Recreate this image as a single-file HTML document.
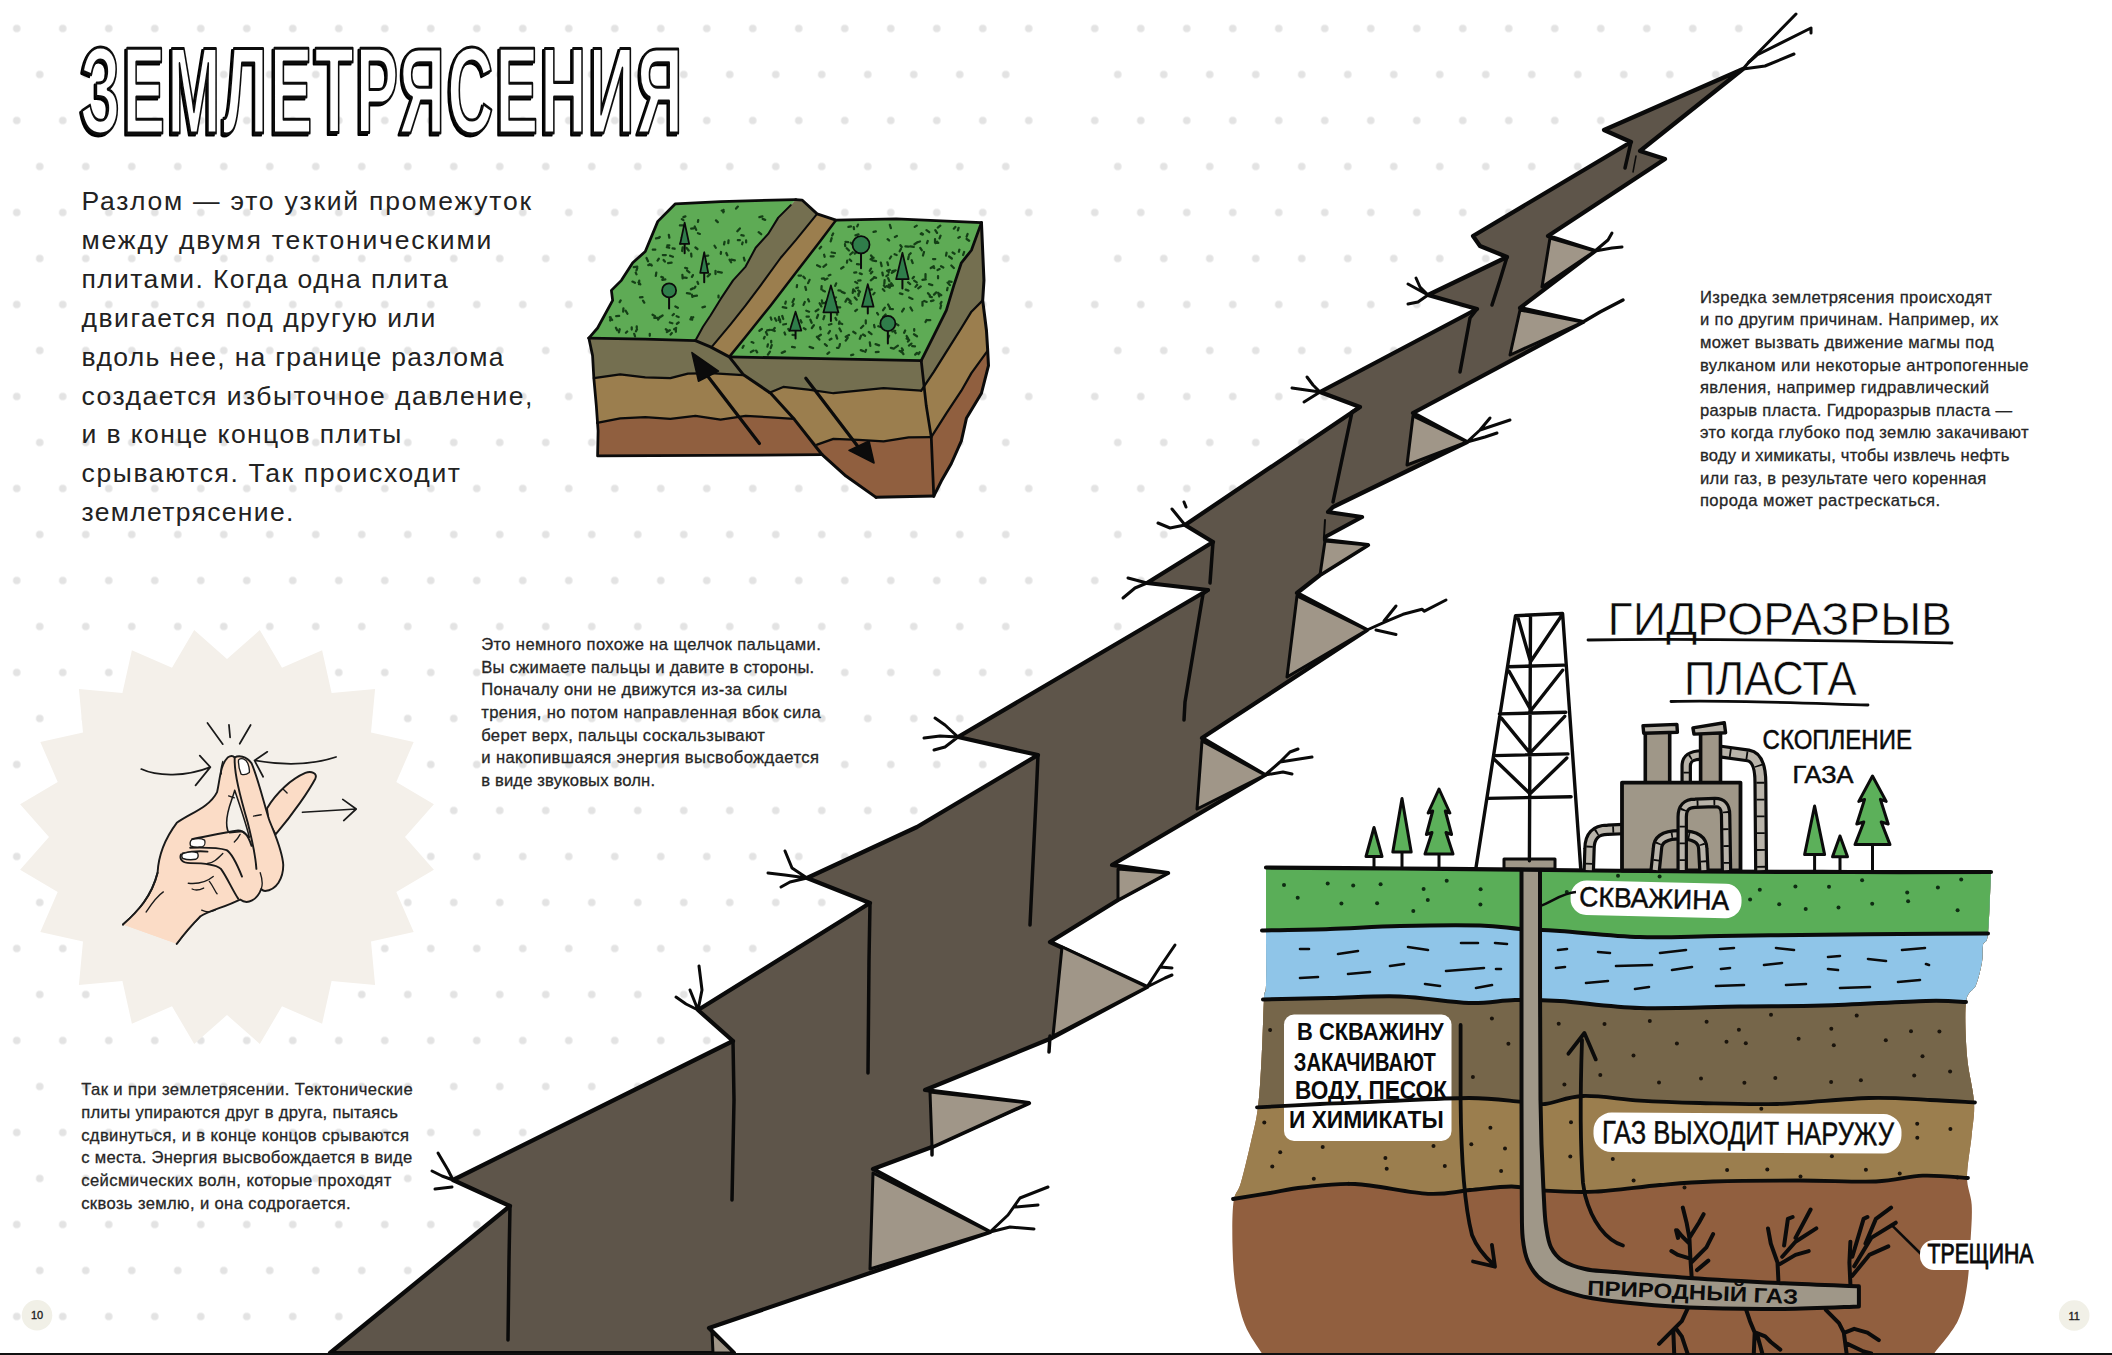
<!DOCTYPE html>
<html lang="ru"><head><meta charset="utf-8"><title>Землетрясения</title>
<style>
html,body{margin:0;padding:0;background:#fff;}
body{width:2112px;height:1355px;overflow:hidden;}
svg{display:block;}
text{font-family:"Liberation Sans",sans-serif;}
.t1{font-size:26.5px;fill:#222;}
.t2{font-size:16.6px;fill:#262626;stroke:#262626;stroke-width:.3px;}
.hw{font-family:"Liberation Sans",sans-serif;font-weight:bold;fill:#111;}
</style></head><body>
<svg width="2112" height="1355" viewBox="0 0 2112 1355">
<defs>
<pattern id="dotsL" x="-6.25" y="5.5" width="46" height="92" patternUnits="userSpaceOnUse">
<circle cx="23" cy="23" r="3.8" fill="#e3e3e3"/>
<circle cx="0" cy="69" r="3.8" fill="#e3e3e3"/>
<circle cx="46" cy="69" r="3.8" fill="#e3e3e3"/>
</pattern>
<pattern id="dotsR" x="13.75" y="5.5" width="46" height="92" patternUnits="userSpaceOnUse">
<circle cx="23" cy="23" r="3.8" fill="#e3e3e3"/>
<circle cx="0" cy="69" r="3.8" fill="#e3e3e3"/>
<circle cx="46" cy="69" r="3.8" fill="#e3e3e3"/>
</pattern>
</defs>
<rect x="0" y="0" width="2112" height="1355" fill="#ffffff"/>
<rect x="0" y="0" width="1040" height="1355" fill="url(#dotsL)"/>
<rect x="1085" y="0" width="1027" height="1355" fill="url(#dotsR)"/>
<!-- right page is plain white: cover dots to the right of the fault -->
<path d="M1743 69 L1640 151 L1665 159 L1548 236 L1595 251 L1520 308 L1583 322 L1413 413 L1467 442 L1333 507 L1328 512 L1362 517 L1325 537 L1325 540 L1368 545 L1320 575 L1297 593 L1367 630 L1202 738 L1265 775 L1112 865 L1168 873 L1118 900 L1050 942 L1147 987 L1052 1038 L925 1090 L1029 1103 L932 1147 L873 1169 L990 1232 L709 1328 L734 1355 L2112 1355 L2112 0 L1790 0 Z" fill="#ffffff"/>

<path d="M259.8 630.1 L282.0 667.7 L322.1 650.3 L331.6 693.0 L375.1 688.9 L371.0 732.4 L413.7 741.9 L396.3 782.0 L433.9 804.2 L405.0 837.0 L433.9 869.8 L396.3 892.0 L413.7 932.1 L371.0 941.6 L375.1 985.1 L331.6 981.0 L322.1 1023.7 L282.0 1006.3 L259.8 1043.9 L227.0 1015.0 L194.2 1043.9 L172.0 1006.3 L131.9 1023.7 L122.4 981.0 L78.9 985.1 L83.0 941.6 L40.3 932.1 L57.7 892.0 L20.1 869.8 L49.0 837.0 L20.1 804.2 L57.7 782.0 L40.3 741.9 L83.0 732.4 L78.9 688.9 L122.4 693.0 L131.9 650.3 L172.0 667.7 L194.2 630.1 L227.0 659.0 Z" fill="#f4f0ea"/>
<g transform="translate(100 700) scale(0.1919)" stroke-linecap="round" stroke-linejoin="round" fill="none" stroke="#1a1a1a" stroke-width="10">
<path d="M870 565 C920 480 1000 410 1070 380 C1100 368 1135 380 1122 410 C1090 470 1010 590 915 700 L880 640 Z" fill="#fbdcc6"/>
<path d="M120 1170 C200 1100 270 1020 300 900 C305 800 340 720 400 640 C470 590 570 560 610 480 C625 420 625 340 665 300 C680 290 695 292 702 300 C720 288 762 290 790 330 C820 400 850 520 880 620 C910 700 950 780 955 860 C955 930 920 990 860 995 C850 995 845 990 840 985 C820 1040 770 1070 730 1040 C650 1080 560 1100 520 1130 C470 1180 430 1230 400 1270" fill="#fbdcc6"/>
<path d="M120 1170 L400 1270 L520 1130 L300 1000 Z" fill="#fbdcc6" stroke="none"/>
<path d="M120 1170 C200 1100 270 1020 300 900 M400 1270 C430 1230 470 1180 520 1130"/>
<path d="M702 470 C690 520 660 570 660 640 C660 670 668 690 675 692 L740 685 L778 715 C760 640 725 540 702 470 Z" fill="#f4f0ea" stroke-width="8"/>
<path d="M702 300 C698 380 730 500 770 640 C790 720 810 800 815 880"/>
<path d="M480 725 C560 710 650 690 720 680 C750 680 770 700 790 760"/>
<path d="M470 770 C540 768 620 770 660 782 C690 800 720 870 740 920"/>
<path d="M422 805 C412 830 430 850 470 850 C540 850 600 855 630 880 C660 920 690 990 720 1035"/>
<path d="M430 800 C470 790 520 785 560 790"/>
<path d="M640 800 C610 830 590 850 560 852" stroke-width="7"/>
<path d="M478 728 C500 722 530 722 545 730 C550 745 545 760 535 764 C510 768 485 766 472 760 C468 748 470 735 478 728 Z" fill="#fff" stroke-width="7"/>
<path d="M432 800 C455 792 490 790 508 796 C514 810 510 824 500 830 C475 834 450 832 432 826 C424 816 426 806 432 800 Z" fill="#fff" stroke-width="7"/>
<path d="M722 312 C735 300 760 305 770 330 C778 350 780 365 778 378 C765 388 745 390 735 386 C725 360 720 335 722 312 Z" fill="#fff" stroke-width="7"/>
<path d="M640 320 C632 345 628 365 632 385" stroke-width="7"/>
<path d="M460 955 C510 960 560 945 590 920 M480 985 C500 995 520 990 540 980 M570 945 C590 970 600 1000 610 1010 M240 1105 C270 1060 300 1020 330 1000 M530 1095 C560 1110 580 1105 600 1095 M670 500 L700 510 M800 605 L840 598 M955 465 L975 485 M840 985 C850 960 845 930 835 900 M700 740 C710 730 720 720 730 700" stroke-width="7"/>
<path d="M215 360 C300 400 450 400 575 350 M520 290 L575 350 L498 445" stroke-width="9"/>
<path d="M1230 297 C1100 340 950 340 805 315 M872 270 L805 315 L850 400" stroke-width="9"/>
<path d="M1055 585 L1335 568 M1265 518 L1335 568 L1270 628" stroke-width="9"/>
<path d="M560 120 L640 230 M672 130 L678 195 M785 130 L728 228" stroke-width="9"/>
</g>
<filter id="tsh" x="-2%" y="-5%" width="104%" height="112%"><feOffset in="SourceAlpha" dx="-3.6" dy="2" result="o"/><feMerge><feMergeNode in="o"/><feMergeNode in="SourceGraphic"/></feMerge></filter>
<g transform="translate(80.5 132.5) scale(0.52 1)">
<text x="0" y="0" font-size="122" font-weight="bold" fill="#fff" stroke="#111" stroke-width="2.4" stroke-linejoin="round" textLength="1158" lengthAdjust="spacing" filter="url(#tsh)" style="vector-effect:non-scaling-stroke">ЗЕМЛЕТРЯСЕНИЯ</text>
</g>

<text class="t1" x="81.5" y="209.6" textLength="449.5" lengthAdjust="spacing">Разлом — это узкий промежуток</text>
<text class="t1" x="81.5" y="249" textLength="409.8" lengthAdjust="spacing">между двумя тектоническими</text>
<text class="t1" x="81.5" y="287.6" textLength="366.2" lengthAdjust="spacing">плитами. Когда одна плита</text>
<text class="t1" x="81.5" y="327" textLength="353.9" lengthAdjust="spacing">двигается под другую или</text>
<text class="t1" x="81.5" y="365.5" textLength="422.1" lengthAdjust="spacing">вдоль нее, на границе разлома</text>
<text class="t1" x="81.5" y="404.6" textLength="450.8" lengthAdjust="spacing">создается избыточное давление,</text>
<text class="t1" x="81.5" y="443.3" textLength="319.8" lengthAdjust="spacing">и в конце концов плиты</text>
<text class="t1" x="81.5" y="482" textLength="378.5" lengthAdjust="spacing">срываются. Так происходит</text>
<text class="t1" x="81.5" y="521" textLength="211.9" lengthAdjust="spacing">землетрясение.</text>
<text class="t2" x="481.2" y="649.9" textLength="339.6" lengthAdjust="spacing">Это немного похоже на щелчок пальцами.</text>
<text class="t2" x="481.2" y="672.7" textLength="333.0" lengthAdjust="spacing">Вы сжимаете пальцы и давите в стороны.</text>
<text class="t2" x="481.2" y="695.4" textLength="306.1" lengthAdjust="spacing">Поначалу они не движутся из-за силы</text>
<text class="t2" x="481.2" y="718.1" textLength="339.6" lengthAdjust="spacing">трения, но потом направленная вбок сила</text>
<text class="t2" x="481.2" y="740.6" textLength="283.7" lengthAdjust="spacing">берет верх, пальцы соскальзывают</text>
<text class="t2" x="481.2" y="763.2" textLength="337.7" lengthAdjust="spacing">и накопившаяся энергия высвобождается</text>
<text class="t2" x="481.2" y="785.8" textLength="173.8" lengthAdjust="spacing">в виде звуковых волн.</text>
<text class="t2" x="81.2" y="1095" textLength="331.5" lengthAdjust="spacing">Так и при землетрясении. Тектонические</text>
<text class="t2" x="81.2" y="1117.8" textLength="316.8" lengthAdjust="spacing">плиты упираются друг в друга, пытаясь</text>
<text class="t2" x="81.2" y="1140.5" textLength="327.7" lengthAdjust="spacing">сдвинуться, и в конце концов срываются</text>
<text class="t2" x="81.2" y="1163.2" textLength="331.1" lengthAdjust="spacing">с места. Энергия высвобождается в виде</text>
<text class="t2" x="81.2" y="1186" textLength="310.2" lengthAdjust="spacing">сейсмических волн, которые проходят</text>
<text class="t2" x="81.2" y="1208.5" textLength="269.5" lengthAdjust="spacing">сквозь землю, и она содрогается.</text>
<text class="t2" x="1699.9" y="302.8" textLength="291.9" lengthAdjust="spacing">Изредка землетрясения происходят</text>
<text class="t2" x="1699.9" y="325.4" textLength="298.3" lengthAdjust="spacing">и по другим причинам. Например, их</text>
<text class="t2" x="1699.9" y="347.9" textLength="293.7" lengthAdjust="spacing">может вызвать движение магмы под</text>
<text class="t2" x="1699.9" y="370.5" textLength="328.7" lengthAdjust="spacing">вулканом или некоторые антропогенные</text>
<text class="t2" x="1699.9" y="393.1" textLength="289.1" lengthAdjust="spacing">явления, например гидравлический</text>
<text class="t2" x="1699.9" y="415.7" textLength="312.1" lengthAdjust="spacing">разрыв пласта. Гидроразрыв пласта —</text>
<text class="t2" x="1699.9" y="438.3" textLength="328.7" lengthAdjust="spacing">это когда глубоко под землю закачивают</text>
<text class="t2" x="1699.9" y="460.9" textLength="309.4" lengthAdjust="spacing">воду и химикаты, чтобы извлечь нефть</text>
<text class="t2" x="1699.9" y="483.5" textLength="286.3" lengthAdjust="spacing">или газ, в результате чего коренная</text>
<text class="t2" x="1699.9" y="506.1" textLength="240.2" lengthAdjust="spacing">порода может растрескаться.</text>
<g transform="translate(570 180) scale(0.25088)" stroke-linejoin="round" stroke-linecap="round">
<path d="M75 630 L500 640 L560 665 L635 705 L690 775 L800 850 L895 955 L1005 1095 L110 1100 L112 1000 L105 900 L95 790 L90 700 L75 630 Z" fill="#905f3f" stroke="none"/>
<path d="M75 630 L500 640 L560 665 L635 705 L690 775 L800 850 L893 952 L800 946 L700 940 L600 955 L500 940 L400 952 L300 945 L200 950 L108 968 L105 900 L95 790 L90 700 Z" fill="#9b7e4e"/>
<path d="M75 630 L500 640 L560 665 L635 705 L690 778 L560 770 L470 772 L400 790 L300 787 L200 775 L95 790 L90 700 Z" fill="#746f50"/>
<path d="M635 705 L1400 720 L1420 900 L1440 1025 L1450 1260 L1220 1265 L1100 1180 L1005 1095 L895 955 L800 850 L690 775 Z" fill="#905f3f"/>
<path d="M635 705 L1400 720 L1420 900 L1440 1025 L1350 1026 L1250 1042 L1150 1036 L1050 1032 L985 1055 L895 955 L800 850 L690 775 Z" fill="#9b7e4e"/>
<path d="M635 705 L1400 720 L1400 840 L1250 830 L1150 840 L1050 850 L950 836 L850 825 L795 848 L690 775 Z" fill="#746f50"/>
<path d="M1640 170 L1650 400 L1645 480 L1660 600 L1665 680 L1668 740 L1640 850 L1580 950 L1560 1040 L1520 1130 L1480 1200 L1450 1260 L1440 1025 L1420 900 L1400 720 L1450 620 L1500 520 L1530 420 L1560 330 L1600 280 Z" fill="#905f3f"/>
<path d="M1640 170 L1650 400 L1645 480 L1660 600 L1665 680 L1600 770 L1560 840 L1500 930 L1440 1025 L1420 900 L1400 720 L1450 620 L1500 520 L1530 420 L1560 330 L1600 280 Z" fill="#9b7e4e"/>
<path d="M1640 170 L1650 400 L1645 480 L1600 525 L1560 590 L1500 685 L1450 765 L1400 840 L1400 720 L1450 620 L1500 520 L1530 420 L1560 330 L1600 280 Z" fill="#746f50"/>
<path d="M900 78 L925 80 L985 135 L900 240 L840 310 L760 420 L700 500 L640 575 L565 665 L500 640 L530 585 L560 540 L600 475 L650 400 L700 345 L740 270 L790 215 L830 150 L880 100 Z" fill="#746f50"/>
<path d="M985 135 L900 240 L840 310 L760 420 L700 500 L640 575 L565 665 L635 705 L700 625 L800 500 L900 370 L1000 240 L1060 160 Z" fill="#9b7e4e"/>
<path d="M75 630 L110 590 L170 480 L165 440 L205 400 L250 330 L300 285 L350 165 L420 95 L600 86 L900 78 L880 100 L830 150 L790 215 L740 270 L700 345 L650 400 L600 475 L560 540 L530 585 L500 640 L300 634 Z" fill="#5eab55"/>
<path d="M1060 160 L1300 155 L1640 170 L1600 280 L1560 330 L1530 420 L1500 520 L1450 620 L1400 720 L1000 712 L635 705 L700 625 L800 500 L900 370 L1000 240 Z" fill="#5eab55"/>
<path d="M612 119l-1 10 M425 543l8 3 M551 301l-7 1 M329 537l10 6 M602 287l-1 7 M636 318l6 10 M449 246l-10 8 M276 401l-1 14 M677 240l-8 0 M420 504l10 5 M553 334l-13 7 M466 451l12 2 M393 454l11 1 M398 568l10 3 M305 311l6 13 M268 351l-3 9 M380 396l-12 2 M500 425l-4 6 M399 302l11 4 M582 161l7 7 M459 350l8 2 M358 227l-7 4 M511 160l-1 7 M213 512l-1 13 M262 369l3 7 M289 467l-10 1 M222 521l7 12 M406 610l-5 6 M196 542l-12 1 M364 386l7 3 M433 568l-7 5 M273 408l7 8 M183 589l5 10 M422 594l-0 11 M438 181l13 0 M344 369l-2 13 M538 505l-10 3 M580 362l-0 13 M448 378l1 14 M768 155l10 4 M202 480l-4 7 M256 613l3 10 M500 269l8 6 M532 326l10 1 M590 366l15 3 M423 590l-8 5 M198 595l-3 12 M643 317l14 3 M449 269l-2 14 M510 212l8 3 M702 241l-0 8 M483 547l4 10 M358 546l-7 10 M409 273l8 1 M317 336l9 5 M330 278l10 0 M467 361l9 7 M558 375l-9 9 M396 261l-8 0 M491 547l-11 8 M162 548l-2 12 M592 461l0 7 M490 379l-4 7 M683 220l9 2 M677 193l-10 11 M483 293l1 12 M605 122l8 4 M688 249l-2 7 M632 241l-1 11 M460 145l-8 3 M446 229l12 9 M249 405l10 5 M266 583l0 7 M447 248l9 4 M336 550l13 0 M767 145l-12 3 M382 299l-12 0 M373 319l5 6 M159 547l9 11 M497 185l6 14 M669 106l-7 8 M465 271l8 10 M616 247l-2 10 M246 587l0 9 M446 156l6 4 M693 310l3 11 M386 268l9 2 M490 432l-8 4 M405 329l-14 2 M398 599l-12 7 M506 461l-13 2 M452 388l13 2 M267 595l-4 8 M508 406l3 8 M324 337l-12 2 M486 457l2 9 M354 314l-5 7 M492 193l-9 1 M752 208l10 8 M318 613l0 8 M228 604l-5 5 M623 291l4 9 M369 540l-9 6 M382 595l8 6 M414 534l-5 5 M355 231l-12 2 M291 481l5 8 M268 345l-14 2 M394 219l2 11 M576 262l5 8" stroke="#143f16" stroke-width="9" fill="none"/>
<path d="M1421 200l11 8 M1348 408l8 7 M1258 536l-10 10 M1303 223l-8 4 M1205 366l-6 6 M789 655l-2 9 M1145 286l-10 7 M1112 618l-13 7 M1505 409l9 10 M1585 215l-4 11 M891 494l-4 8 M1317 260l5 7 M1434 465l8 2 M1032 466l-3 7 M800 548l3 9 M949 475l4 9 M1001 266l-6 7 M1061 619l4 13 M1098 247l11 1 M1279 669l12 3 M1008 440l8 4 M1159 678l10 4 M1120 185l-10 2 M1464 246l-7 5 M1042 633l-7 4 M1155 372l8 3 M1364 662l11 1 M1477 222l-4 11 M1265 328l3 11 M1063 527l2 10 M1127 288l-10 9 M1096 256l1 8 M1148 178l-3 7 M1372 594l-0 7 M1141 368l-8 1 M1371 615l12 8 M1129 696l-8 2 M1395 245l-9 3 M1455 236l-0 14 M1144 335l8 1 M797 684l-8 12 M805 598l11 4 M1275 358l-11 4 M1218 654l14 5 M1268 378l-7 5 M997 587l2 8 M1382 182l-8 5 M1224 530l4 6 M1254 399l-1 14 M860 485l-2 8 M1262 423l13 6 M1039 304l12 0 M1200 353l-5 9 M885 665l11 2 M1043 289l13 2 M1581 235l10 7 M1144 517l-7 5 M1422 559l14 0 M1384 418l-7 8 M972 579l-8 11 M1350 305l-2 10 M1427 451l8 9 M1383 689l-7 7 M1520 341l10 10 M1269 546l-7 13 M1107 629l-8 11 M1074 564l-2 9 M848 507l14 3 M742 680l4 7 M1331 513l-7 11 M1000 617l-12 8 M1272 621l-4 9 M1396 271l6 9 M919 559l4 9 M1074 592l6 11 M1176 277l-7 3 M1459 251l9 0 M1129 605l9 6 M984 625l10 11 M1338 437l11 4 M1336 600l-4 9 M1038 378l-7 3 M1016 654l8 7 M1169 581l-9 9 M985 340l12 6 M1300 574l9 5 M1412 482l10 4 M1525 289l8 5 M1342 632l7 4 M1160 246l4 7 M1372 401l10 7 M1036 602l-6 9 M1271 417l11 5 M1042 574l-10 3 M1212 578l2 9 M1361 652l-10 8 M1280 411l7 10 M1421 558l-4 8 M1061 412l-4 10 M1314 681l10 7 M1417 375l0 15 M797 597l-11 2 M1179 560l-0 12 M1468 450l4 14 M846 542l4 12 M911 381l10 0 M1058 550l4 8 M861 574l-11 2 M855 608l3 8 M765 594l-10 7 M1107 473l11 10 M990 516l-11 7 M1105 321l-1 8 M1473 355l-8 4 M1013 298l2 8 M938 426l3 12 M1298 360l-13 3 M776 625l-3 7 M1294 296l8 3 M870 594l4 7 M804 658l-4 12 M1307 660l-11 8 M833 546l-1 13 M1076 654l-2 9 M1131 188l1 8 M1129 436l-2 14 M1105 473l-7 12 M1012 392l-8 1 M1275 514l12 1 M1321 681l8 13 M1148 429l-7 2 M1357 508l7 12 M1003 423l-1 13 M1060 468l-8 5 M1467 383l-0 9 M1293 602l5 8 M936 486l-5 12 M1296 601l-11 3 M1255 509l-7 10 M1319 275l-5 9 M1401 212l6 4 M1294 363l-11 7 M1200 301l6 8 M955 398l-6 13 M1449 480l-10 3 M1230 685l-11 1 M1049 213l-4 8 M724 646l7 3 M1358 292l-6 6 M1352 638l-5 6 M1267 556l2 14 M1456 200l7 11 M802 641l0 7 M1004 480l2 12 M781 606l5 11 M1268 391l5 12 M1205 320l15 3 M1342 622l6 10 M1239 329l3 14 M1014 542l-4 13 M1447 315l9 0 M1060 486l-12 8 M1210 310l-12 6 M1323 671l4 7 M1191 606l11 8 M1571 287l-4 12 M1103 272l9 9 M1431 415l13 4 M1411 287l-4 14 M1114 488l7 5 M817 551l5 10 M1040 447l7 3 M1426 243l-3 9 M1505 430l-2 9 M1418 396l-13 2 M1195 647l2 14 M1549 191l-3 10 M893 474l-6 13 M1308 377l1 8 M1476 182l-10 8 M1394 686l-5 8 M1229 583l9 3 M1119 250l6 6 M1356 265l14 2 M857 683l-13 6 M732 680l-11 6 M1090 347l-9 6 M1266 236l6 5 M1352 468l13 6 M1479 344l9 5 M955 665l14 5 M692 661l-4 8 M1115 317l6 6 M1536 187l-6 7 M1446 348l6 3 M1471 453l9 6 M1552 278l-2 8 M816 590l-5 7 M1247 435l6 7 M1250 555l-10 7 M1371 386l-5 6 M1450 344l-12 7 M1511 305l11 8 M1008 491l11 0 M1083 446l12 5 M958 557l5 12 M1151 455l-1 7 M887 617l8 1 M1337 265l12 1 M1214 450l-5 6 M1131 438l5 6 M1043 232l-4 13 M1385 248l-12 8 M1026 393l-10 5 M1033 687l-7 6 M1271 361l-1 8 M1070 440l8 1 M1280 305l-5 8 M1180 677l-3 8 M1158 400l-9 1 M942 521l11 4 M905 419l-1 8 M930 385l6 7 M1479 500l-3 12 M837 556l1 11 M1251 420l5 7 M1020 486l10 0 M1501 290l-2 11 M932 591l7 4 M1511 404l10 2 M1077 571l8 3 M989 537l-5 13 M1460 448l-9 9 M1398 424l-10 8 M1554 227l-6 3 M1405 486l0 15 M1210 391l-11 9 M1245 369l2 11 M1362 320l4 11 M1021 337l-11 9 M1137 406l8 5 M1219 205l-9 2 M1064 669l7 0 M1203 436l-13 3 M1155 447l-6 8 M995 491l7 13 M1315 452l10 3 M1038 472l-3 14 M1077 508l-10 0 M1168 616l8 5 M1150 217l-12 4 M1149 440l7 5 M1268 496l7 13 M1275 179l4 13 M943 545l9 0 M1481 486l-4 7 M1135 468l8 9 M1212 387l8 3 M1398 215l8 3 M1160 620l-5 13" stroke="#143f16" stroke-width="9" fill="none"/>
<path d="M75 630 L110 590 L170 480 L165 440 L205 400 L250 330 L300 285 L350 165 L420 95 L600 86 L900 78" fill="none" stroke="#0b0b0b" stroke-width="11"/>
<path d="M75 630 L90 700 L95 790 L105 900 L112 1000 L110 1100 L1005 1095" fill="none" stroke="#0b0b0b" stroke-width="11"/>
<path d="M75 630 L300 634 L500 640" fill="none" stroke="#0b0b0b" stroke-width="11"/>
<path d="M500 640 L560 665 L635 705 L690 775 L800 850 L895 955 L1005 1095 L1100 1180 L1220 1265" fill="none" stroke="#0b0b0b" stroke-width="12"/>
<path d="M880 100 L830 150 L790 215 L740 270 L700 345 L650 400 L600 475 L560 540 L530 585 L500 640" fill="none" stroke="#0b0b0b" stroke-width="8"/>
<path d="M900 78 L925 80 L985 135 L1060 160 L1300 155 L1640 170" fill="none" stroke="#0b0b0b" stroke-width="11"/>
<path d="M985 135 L900 240 L840 310 L760 420 L700 500 L640 575 L565 665" fill="none" stroke="#0b0b0b" stroke-width="8"/>
<path d="M1060 160 L1000 240 L900 370 L800 500 L700 625 L635 705" fill="none" stroke="#0b0b0b" stroke-width="10"/>
<path d="M95 790 L200 775 L300 787 L400 790 L470 772 L560 770 L690 778" fill="none" stroke="#0b0b0b" stroke-width="9"/>
<path d="M108 968 L200 950 L300 945 L400 952 L500 940 L600 955 L700 940 L800 946 L893 952" fill="none" stroke="#0b0b0b" stroke-width="9"/>
<path d="M795 848 L850 825 L950 836 L1050 850 L1150 840 L1250 830 L1400 840" fill="none" stroke="#0b0b0b" stroke-width="9"/>
<path d="M985 1055 L1050 1032 L1150 1036 L1250 1042 L1350 1026 L1440 1025" fill="none" stroke="#0b0b0b" stroke-width="9"/>
<path d="M1400 840 L1450 765 L1500 685 L1560 590 L1600 525 L1645 480" fill="none" stroke="#0b0b0b" stroke-width="9"/>
<path d="M1440 1025 L1500 930 L1560 840 L1600 770 L1665 680" fill="none" stroke="#0b0b0b" stroke-width="9"/>
<path d="M635 705 L1000 712 L1400 720" fill="none" stroke="#0b0b0b" stroke-width="11"/>
<path d="M1640 170 L1600 280 L1560 330 L1530 420 L1500 520 L1450 620 L1400 720" fill="none" stroke="#0b0b0b" stroke-width="11"/>
<path d="M1400 720 L1420 900 L1440 1025 L1450 1260" fill="none" stroke="#0b0b0b" stroke-width="11"/>
<path d="M1640 170 L1650 400 L1645 480 L1660 600 L1665 680 L1668 740 L1640 850 L1580 950 L1560 1040 L1520 1130 L1480 1200 L1450 1260" fill="none" stroke="#0b0b0b" stroke-width="12"/>
<path d="M1220 1265 L1450 1260" fill="none" stroke="#0b0b0b" stroke-width="12"/>
<path d="M755 1050 L540 770" stroke="#0b0b0b" stroke-width="13" fill="none"/>
<path d="M486 688 L592 762 L512 802 Z" fill="#0b0b0b" stroke="#0b0b0b" stroke-width="6"/>
<path d="M940 790 L1165 1085" stroke="#0b0b0b" stroke-width="13" fill="none"/>
<path d="M1212 1128 L1112 1078 L1192 1040 Z" fill="#0b0b0b" stroke="#0b0b0b" stroke-width="6"/>
<path d="M457 255 L457 292" stroke="#0b0b0b" stroke-width="8" fill="none"/>
<path d="M457 170 L439 255 L475 255 Z" fill="#2f7d4a" stroke="#0b0b0b" stroke-width="7"/>
<path d="M535 370 L535 408" stroke="#0b0b0b" stroke-width="8" fill="none"/>
<path d="M535 288 L519 370 L551 370 Z" fill="#2f7d4a" stroke="#0b0b0b" stroke-width="7"/>
<path d="M395 440 L395 512" stroke="#0b0b0b" stroke-width="8" fill="none"/>
<circle cx="395" cy="440" r="28" fill="#2f7d4a" stroke="#0b0b0b" stroke-width="7"/>
<path d="M1160 258 L1160 352" stroke="#0b0b0b" stroke-width="8" fill="none"/>
<circle cx="1160" cy="258" r="34" fill="#2f7d4a" stroke="#0b0b0b" stroke-width="7"/>
<path d="M1325 395 L1325 432" stroke="#0b0b0b" stroke-width="8" fill="none"/>
<path d="M1325 290 L1300 395 L1350 395 Z" fill="#2f7d4a" stroke="#0b0b0b" stroke-width="7"/>
<path d="M1040 528 L1040 562" stroke="#0b0b0b" stroke-width="8" fill="none"/>
<path d="M1040 420 L1010 528 L1070 528 Z" fill="#2f7d4a" stroke="#0b0b0b" stroke-width="7"/>
<path d="M1187 505 L1187 532" stroke="#0b0b0b" stroke-width="8" fill="none"/>
<path d="M1187 415 L1164 505 L1210 505 Z" fill="#2f7d4a" stroke="#0b0b0b" stroke-width="7"/>
<path d="M899 600 L899 632" stroke="#0b0b0b" stroke-width="8" fill="none"/>
<path d="M899 525 L876 600 L922 600 Z" fill="#2f7d4a" stroke="#0b0b0b" stroke-width="7"/>
<path d="M1267 572 L1267 652" stroke="#0b0b0b" stroke-width="8" fill="none"/>
<circle cx="1267" cy="572" r="30" fill="#2f7d4a" stroke="#0b0b0b" stroke-width="7"/>
</g>
<g id="fault" stroke-linejoin="round" stroke-linecap="round">
<path d="M1743 69 L1604 130 L1631 142 L1473 236 L1480 246 L1507 257 L1428 295 L1477 309 L1320 392 L1360 407 L1185 525 L1213 542 L1147 583 L1208 590 L958 737 L1038 755 L917 827 L807 878 L870 903 L698 1010 L733 1041 L453 1180 L510 1206 L330 1353 L734 1353 L709 1328 L990 1232 L873 1169 L932 1147 L1029 1103 L925 1090 L1052 1038 L1147 987 L1050 942 L1118 900 L1168 873 L1112 865 L1265 775 L1202 738 L1367 630 L1297 593 L1320 575 L1368 545 L1325 540 L1325 537 L1362 517 L1328 512 L1333 507 L1467 442 L1413 413 L1583 322 L1520 308 L1595 251 L1548 236 L1665 159 L1640 151 Z" fill="#5e554a" stroke="#0a0a0a" stroke-width="4.2"/>
<g fill="#a09688" stroke="#0a0a0a" stroke-width="3">
<path d="M1550 238 L1595 251 L1542 287 Z"/>
<path d="M1520 310 L1583 322 L1510 355 Z"/>
<path d="M1413 416 L1467 442 L1407 465 Z"/>
<path d="M1325 541 L1368 545 L1320 575 Z"/>
<path d="M1297 596 L1367 630 L1287 677 Z"/>
<path d="M1202 741 L1265 775 L1197 809 Z"/>
<path d="M1118 869 L1168 873 L1118 900 Z"/>
<path d="M1062 947 L1147 987 L1053 1036 Z"/>
<path d="M930 1092 L1029 1103 L932 1147 Z"/>
<path d="M873 1173 L990 1232 L870 1269 Z"/>
<path d="M712 1332 L734 1353 L713 1353 Z"/>
</g>
<g fill="none" stroke="#0a0a0a" stroke-width="3.5">
<path d="M1631 142 L1625 168"/>
<path d="M1636 156 L1633 172" stroke-width="1.5"/>
<path d="M1507 257 L1500 280 L1492 305"/>
<path d="M1477 309 L1470 318 L1460 372"/>
<path d="M1360 407 L1352 412 L1333 502"/>
<path d="M1213 542 L1210 583"/>
<path d="M1208 590 L1203 594 L1185 702 L1184 720"/>
<path d="M1038 755 L1036 800 L1030 925"/>
<path d="M870 903 L869 960 L868 1073"/>
<path d="M733 1041 L734 1100 L732 1200"/>
<path d="M510 1206 L509 1260 L508 1340"/>
<path d="M1325 520 L1324 537" stroke-width="2"/>
<path d="M932 1147 L932 1155"/>
<path d="M1050 1036 L1049 1052"/>
<path d="M1583 322 L1600 312 L1623 300" stroke-width="3.5"/>
<path d="M1367 630 L1388 620.6 L1403 614.3 L1422 609.3 L1424.4 611.2 L1446 600 M1384 621 L1396 606 M1376 630 L1396 634.5" stroke-width="3"/>
</g>
<!-- twigs -->
<g fill="none" stroke="#0a0a0a" stroke-width="3">
<path d="M1743 69 L1749 62 L1796 14"/>
<path d="M1749 62 L1757 55 L1811 28 L1811 33"/>
<path d="M1743 69 L1765 66 L1794 54"/>
<path d="M1428 295 L1408 284 M1428 295 L1420 287 L1416 278 M1428 295 L1418 302 L1408 304"/>
<path d="M1320 392 L1292 388 M1320 392 L1313 385 L1307 377 M1320 392 L1304 402"/>
<path d="M1185 525 L1172 509 M1185 525 L1170 528 L1158 523 M1186 507 L1184 502"/>
<path d="M1147 583 L1128 578 M1147 583 L1135 588 L1123 598"/>
<path d="M958 737 L945 725 L935 718 M958 737 L940 736 L924 738 M958 737 L945 747 L934 750"/>
<path d="M807 878 L792 868 L785 851 M807 878 L785 875 L768 873 M807 878 L790 882 L781 887"/>
<path d="M698 1010 L702 990 L699 966 M698 1010 L690 990 M698 1010 L686 1004 L676 997"/>
<path d="M453 1180 L448 1170 L438 1153 M453 1180 L442 1176 L432 1171 M435 1189 L452 1187"/>
<path d="M1595 251 L1608 240 L1612 233 M1595 251 L1612 248 L1622 247"/>
<path d="M1467 442 L1480 430 L1490 418 M1480 430 L1510 420 M1467 442 L1485 437 L1497 433"/>
<path d="M1265 775 L1280 762 L1290 752 L1298 749 M1280 762 L1312 757 M1265 775 L1283 772 L1292 774"/>
<path d="M1147 987 L1160 967 L1175 945 M1160 967 L1172 968 M1147 987 L1165 978 L1172 975"/>
<path d="M990 1232 L1008 1215 L1020 1198 L1048 1187 M1015 1207 L1038 1205 M990 1232 L1010 1227 L1034 1229"/>
</g>
</g>
<rect x="0" y="1353" width="2112" height="2" fill="#111"/>

<g id="frack" stroke-linecap="round" stroke-linejoin="round">
<clipPath id="fsil"><path d="M1266 867.5 C1266.0 877.9 1266.0 910.4 1266 930 C1266.0 949.6 1266.3 973.5 1266 985 C1265.7 996.5 1264.7 987.2 1264 999 C1263.3 1010.8 1262.7 1038.0 1261.7 1056 C1260.7 1074.0 1259.8 1092.7 1258 1107 C1256.2 1121.3 1253.9 1129.0 1251 1141.7 C1248.1 1154.4 1243.7 1173.0 1240.8 1183 C1237.9 1193.0 1234.9 1191.5 1233.5 1202 C1232.1 1212.5 1232.2 1231.5 1232.5 1245.8 C1232.8 1260.0 1233.5 1274.3 1235.6 1287.5 C1237.7 1300.7 1240.7 1314.1 1245 1325 C1249.3 1335.9 1258.9 1348.3 1261.7 1353 L1934.5 1353 C1938.4 1347.7 1952.4 1332.2 1957.8 1321 C1963.2 1309.8 1964.9 1299.5 1967 1286 C1969.1 1272.5 1969.8 1253.3 1970.6 1239.8 C1971.4 1226.3 1972.3 1215.3 1971.7 1204.8 C1971.1 1194.3 1967.0 1188.6 1967 1177 C1967.0 1165.4 1970.5 1147.5 1971.7 1135 C1972.9 1122.5 1974.8 1114.9 1974 1101.7 C1973.2 1088.5 1968.3 1072.6 1967 1056 C1965.7 1039.4 1964.5 1013.8 1966 1002 C1967.5 990.2 1973.3 991.7 1976 985 C1978.7 978.3 1980.8 968.7 1982 962 C1983.2 955.3 1982.0 949.8 1983 945 C1984.0 940.2 1986.7 945.8 1988 933.5 C1989.3 921.2 1990.5 881.8 1991 871.5 Z"/></clipPath>
<g clip-path="url(#fsil)">
<rect x="1200" y="860" width="820" height="500" fill="#915f3f"/>
<path d="M1233 1199 C1239.2 1198.0 1258.3 1194.9 1270 1193 C1281.7 1191.1 1288.8 1189.0 1303 1187.5 C1317.2 1186.0 1334.2 1183.0 1355 1184 C1375.8 1185.0 1408.8 1192.8 1428 1193.8 C1447.2 1194.8 1456.0 1191.2 1470 1190 C1484.0 1188.8 1499.2 1186.4 1511.7 1186.5 C1524.2 1186.6 1531.1 1189.7 1545 1190.6 C1558.9 1191.5 1575.8 1192.6 1595 1191.7 C1614.2 1190.8 1640.3 1186.7 1660 1185 C1679.7 1183.3 1689.7 1182.2 1713 1181.5 C1736.3 1180.8 1772.8 1180.5 1800 1180.5 C1827.2 1180.5 1855.5 1182.3 1876 1181.5 C1896.5 1180.7 1907.5 1176.3 1922.8 1175.7 C1938.1 1175.1 1960.5 1177.6 1968 1178 L2030 1178 L2030 850 L1200 850 L1200 1199 Z" fill="#9b7e4e"/>
<path d="M1257 1107.4 C1267.5 1106.8 1300.0 1105.0 1320 1104 C1340.0 1103.0 1352.2 1102.7 1377 1101.7 C1401.8 1100.7 1445.0 1098.0 1469 1098 C1493.0 1098.0 1508.3 1100.7 1521 1101.7 C1533.7 1102.7 1534.7 1105.0 1545 1104 C1555.3 1103.0 1567.2 1096.6 1583 1096 C1598.8 1095.4 1620.5 1099.4 1640 1100.6 C1659.5 1101.8 1677.2 1102.4 1700 1103 C1722.8 1103.6 1748.8 1104.8 1777 1104 C1805.2 1103.2 1843.5 1098.7 1869 1098 C1894.5 1097.3 1912.3 1099.2 1930 1100 C1947.7 1100.8 1967.5 1102.1 1975 1102.5 L2030 1102.5 L2030 850 L1200 850 L1200 1107.4 Z" fill="#76664a"/>
<path d="M1263 999.5 C1274.2 999.2 1307.2 998.5 1330 998 C1352.8 997.5 1376.8 995.7 1400 996.5 C1423.2 997.3 1449.8 1002.4 1469 1003 C1488.2 1003.6 1499.8 1000.3 1515 1000 C1530.2 999.7 1539.2 999.7 1560 1001 C1580.8 1002.3 1610.0 1007.1 1640 1008 C1670.0 1008.9 1709.5 1006.9 1740 1006.5 C1770.5 1006.1 1792.0 1006.5 1823 1005.6 C1854.0 1004.7 1902.2 1001.6 1926 1001 C1949.8 1000.4 1959.3 1001.8 1966 1002 L2030 1002 L2030 850 L1200 850 L1200 999.5 Z" fill="#8fc5e8"/>
<path d="M1262 930.5 C1273.3 930.2 1307.0 929.8 1330 929 C1353.0 928.2 1375.0 926.6 1400 926 C1425.0 925.4 1460.0 925.0 1480 925.5 C1500.0 926.0 1506.7 928.1 1520 929 C1533.3 929.9 1540.0 929.7 1560 931 C1580.0 932.3 1613.3 936.2 1640 937 C1666.7 937.8 1689.5 936.4 1720 936 C1750.5 935.6 1793.0 935.0 1823 934.7 C1853.0 934.4 1872.5 934.2 1900 934 C1927.5 933.8 1973.3 933.6 1988 933.5 L2030 933.5 L2030 850 L1200 850 L1200 930.5 Z" fill="#5aae58"/>
</g>
<g fill="#0e2c12"><circle cx="1284.0" cy="885.0" r="2.0"/><circle cx="1327.7" cy="883.4" r="2.0"/><circle cx="1353.2" cy="885.5" r="2.0"/><circle cx="1380.6" cy="884.2" r="2.0"/><circle cx="1423.6" cy="889.0" r="2.0"/><circle cx="1446.7" cy="880.7" r="2.0"/><circle cx="1480.6" cy="889.3" r="2.0"/><circle cx="1566.8" cy="891.9" r="2.0"/><circle cx="1618.0" cy="875.8" r="2.0"/><circle cx="1659.6" cy="876.5" r="2.0"/><circle cx="1759.8" cy="889.8" r="2.0"/><circle cx="1795.4" cy="886.4" r="2.0"/><circle cx="1829.0" cy="886.8" r="2.0"/><circle cx="1862.1" cy="880.2" r="2.0"/><circle cx="1907.2" cy="892.4" r="2.0"/><circle cx="1937.9" cy="887.5" r="2.0"/><circle cx="1961.2" cy="879.4" r="2.0"/><circle cx="1297.7" cy="897.8" r="2.0"/><circle cx="1341.4" cy="903.4" r="2.0"/><circle cx="1377.1" cy="903.2" r="2.0"/><circle cx="1413.3" cy="911.0" r="2.0"/><circle cx="1427.8" cy="900.1" r="2.0"/><circle cx="1480.4" cy="904.6" r="2.0"/><circle cx="1750.1" cy="899.6" r="2.0"/><circle cx="1779.2" cy="904.2" r="2.0"/><circle cx="1805.7" cy="909.0" r="2.0"/><circle cx="1838.5" cy="907.5" r="2.0"/><circle cx="1872.2" cy="903.7" r="2.0"/><circle cx="1908.1" cy="901.2" r="2.0"/><circle cx="1957.6" cy="910.2" r="2.0"/></g>
<g fill="#1a140c"><circle cx="1270.1" cy="1030.1" r="2.0"/><circle cx="1491.9" cy="1018.4" r="2.0"/><circle cx="1558.7" cy="1023.7" r="2.0"/><circle cx="1604.5" cy="1024.1" r="2.0"/><circle cx="1649.8" cy="1021.0" r="2.0"/><circle cx="1706.6" cy="1021.7" r="2.0"/><circle cx="1738.9" cy="1029.7" r="2.0"/><circle cx="1771.0" cy="1014.7" r="2.0"/><circle cx="1831.3" cy="1028.7" r="2.0"/><circle cx="1856.7" cy="1015.5" r="2.0"/><circle cx="1911.0" cy="1031.2" r="2.0"/><circle cx="1939.4" cy="1031.5" r="2.0"/><circle cx="1508.4" cy="1043.7" r="2.0"/><circle cx="1633.5" cy="1055.4" r="2.0"/><circle cx="1676.9" cy="1043.4" r="2.0"/><circle cx="1726.5" cy="1041.8" r="2.0"/><circle cx="1745.8" cy="1043.2" r="2.0"/><circle cx="1798.6" cy="1038.8" r="2.0"/><circle cx="1833.8" cy="1045.3" r="2.0"/><circle cx="1885.8" cy="1040.3" r="2.0"/><circle cx="1922.5" cy="1056.2" r="2.0"/><circle cx="1472.9" cy="1076.9" r="2.0"/><circle cx="1564.4" cy="1084.6" r="2.0"/><circle cx="1600.3" cy="1075.0" r="2.0"/><circle cx="1659.0" cy="1082.5" r="2.0"/><circle cx="1701.0" cy="1078.4" r="2.0"/><circle cx="1744.4" cy="1082.8" r="2.0"/><circle cx="1775.3" cy="1078.0" r="2.0"/><circle cx="1831.1" cy="1081.9" r="2.0"/><circle cx="1860.9" cy="1080.2" r="2.0"/><circle cx="1914.2" cy="1075.6" r="2.0"/><circle cx="1950.1" cy="1071.6" r="2.0"/></g>
<g fill="#1a140c"><circle cx="1264.3" cy="1122.5" r="2.0"/><circle cx="1490.4" cy="1127.8" r="2.0"/><circle cx="1571.0" cy="1122.3" r="2.0"/><circle cx="1761.3" cy="1108.8" r="2.0"/><circle cx="1917.2" cy="1123.7" r="2.0"/><circle cx="1950.4" cy="1129.0" r="2.0"/><circle cx="1280.2" cy="1152.3" r="2.0"/><circle cx="1322.7" cy="1146.9" r="2.0"/><circle cx="1385.4" cy="1158.0" r="2.0"/><circle cx="1433.5" cy="1145.9" r="2.0"/><circle cx="1471.3" cy="1144.3" r="2.0"/><circle cx="1505.0" cy="1148.4" r="2.0"/><circle cx="1570.3" cy="1156.5" r="2.0"/><circle cx="1612.8" cy="1158.9" r="2.0"/><circle cx="1831.9" cy="1156.3" r="2.0"/><circle cx="1917.3" cy="1137.7" r="2.0"/><circle cx="1272.3" cy="1166.5" r="2.0"/><circle cx="1313.8" cy="1178.7" r="2.0"/><circle cx="1348.7" cy="1183.7" r="2.0"/><circle cx="1386.7" cy="1168.7" r="2.0"/><circle cx="1444.8" cy="1166.1" r="2.0"/><circle cx="1501.1" cy="1171.0" r="2.0"/><circle cx="1633.6" cy="1180.6" r="2.0"/><circle cx="1684.5" cy="1187.6" r="2.0"/><circle cx="1727.1" cy="1170.1" r="2.0"/><circle cx="1767.3" cy="1169.6" r="2.0"/><circle cx="1800.5" cy="1176.4" r="2.0"/><circle cx="1865.9" cy="1169.7" r="2.0"/><circle cx="1899.7" cy="1173.5" r="2.0"/><circle cx="1957.4" cy="1177.5" r="2.0"/></g>
<path d="M1300 949l9 0 M1338 954l20 -3 M1408 947l20 3 M1461 943l17 0 M1495 943l12 1 M1390 966l14 -2 M1348 974l22 -2 M1300 978l18 -1 M1446 971l38 -3 M1496 969l5 0 M1425 984l15 2 M1476 988l16 -3 M1558 950l9 -1 M1598 952l12 1 M1660 953l26 -3 M1720 949l14 -1 M1776 948l18 2 M1828 957l12 -1 M1868 959l18 2 M1902 950l23 -2 M1556 968l9 -1 M1616 966l36 -1 M1672 970l20 -3 M1721 969l9 -1 M1764 965l18 -2 M1828 969l10 1 M1586 983l22 -2 M1635 989l14 -2 M1716 986l28 -1 M1786 985l20 -1 M1840 988l30 -1 M1898 982l22 -2 M1926 964l3 1" stroke="#0b0b0b" stroke-width="2.6" fill="none"/>
<rect x="1284" y="1014.6" width="167.5" height="126.39999999999998" rx="10" ry="10" fill="#fff" transform="rotate(0 1284 1014.6)"/>
<rect x="1593.6" y="1112.5" width="308.0" height="39.5" rx="18" ry="18" fill="#fff" transform="rotate(0.3 1593.6 1112.5)"/>
<rect x="1571" y="880" width="171" height="34.5" rx="16" ry="16" fill="#fff" transform="rotate(1.4 1571 880)"/>
<path d="M1262 930.5 C1273.3 930.2 1307.0 929.8 1330 929 C1353.0 928.2 1375.0 926.6 1400 926 C1425.0 925.4 1460.0 925.0 1480 925.5 C1500.0 926.0 1506.7 928.1 1520 929 C1533.3 929.9 1540.0 929.7 1560 931 C1580.0 932.3 1613.3 936.2 1640 937 C1666.7 937.8 1689.5 936.4 1720 936 C1750.5 935.6 1793.0 935.0 1823 934.7 C1853.0 934.4 1872.5 934.2 1900 934 C1927.5 933.8 1973.3 933.6 1988 933.5" fill="none" stroke="#0b0b0b" stroke-width="4"/>
<path d="M1263 999.5 C1274.2 999.2 1307.2 998.5 1330 998 C1352.8 997.5 1376.8 995.7 1400 996.5 C1423.2 997.3 1449.8 1002.4 1469 1003 C1488.2 1003.6 1499.8 1000.3 1515 1000 C1530.2 999.7 1539.2 999.7 1560 1001 C1580.8 1002.3 1610.0 1007.1 1640 1008 C1670.0 1008.9 1709.5 1006.9 1740 1006.5 C1770.5 1006.1 1792.0 1006.5 1823 1005.6 C1854.0 1004.7 1902.2 1001.6 1926 1001 C1949.8 1000.4 1959.3 1001.8 1966 1002" fill="none" stroke="#0b0b0b" stroke-width="4"/>
<path d="M1257 1107.4 C1267.5 1106.8 1300.0 1105.0 1320 1104 C1340.0 1103.0 1352.2 1102.7 1377 1101.7 C1401.8 1100.7 1445.0 1098.0 1469 1098 C1493.0 1098.0 1508.3 1100.7 1521 1101.7 C1533.7 1102.7 1534.7 1105.0 1545 1104 C1555.3 1103.0 1567.2 1096.6 1583 1096 C1598.8 1095.4 1620.5 1099.4 1640 1100.6 C1659.5 1101.8 1677.2 1102.4 1700 1103 C1722.8 1103.6 1748.8 1104.8 1777 1104 C1805.2 1103.2 1843.5 1098.7 1869 1098 C1894.5 1097.3 1912.3 1099.2 1930 1100 C1947.7 1100.8 1967.5 1102.1 1975 1102.5" fill="none" stroke="#0b0b0b" stroke-width="3.8"/>
<path d="M1233 1199 C1239.2 1198.0 1258.3 1194.9 1270 1193 C1281.7 1191.1 1288.8 1189.0 1303 1187.5 C1317.2 1186.0 1334.2 1183.0 1355 1184 C1375.8 1185.0 1408.8 1192.8 1428 1193.8 C1447.2 1194.8 1456.0 1191.2 1470 1190 C1484.0 1188.8 1499.2 1186.4 1511.7 1186.5 C1524.2 1186.6 1531.1 1189.7 1545 1190.6 C1558.9 1191.5 1575.8 1192.6 1595 1191.7 C1614.2 1190.8 1640.3 1186.7 1660 1185 C1679.7 1183.3 1689.7 1182.2 1713 1181.5 C1736.3 1180.8 1772.8 1180.5 1800 1180.5 C1827.2 1180.5 1855.5 1182.3 1876 1181.5 C1896.5 1180.7 1907.5 1176.3 1922.8 1175.7 C1938.1 1175.1 1960.5 1177.6 1968 1178" fill="none" stroke="#0b0b0b" stroke-width="3.8"/>
<path d="M1460.6 1025 L1460.6 1100 C1461 1150 1463 1200 1472 1235 C1477 1248 1484 1256 1494 1265 M1473 1261.5 L1495 1266.7 L1491.9 1244.8" fill="none" stroke="#0b0b0b" stroke-width="3.8"/>
<path d="M1623 1245.5 C1606 1240 1592 1222 1585 1195 L1583 1183 C1580.5 1150 1580 1100 1582 1040 M1568.4 1053.7 L1584.4 1033 L1595.8 1059.4" fill="none" stroke="#0b0b0b" stroke-width="3.8"/>
<path d="M1691.7 1277.7 L1690.3 1256.8 L1689.4 1237.9 L1686.6 1222.7 L1682.8 1207.6 M1690.3 1258.7 L1678.0 1254.9 L1671.4 1251.1 M1678.0 1237.9 L1676.1 1230.3 M1689.4 1243.6 L1681.8 1236.0 L1677.1 1230.3 M1691.3 1262.5 L1706.4 1247.3 L1713.1 1234.1 M1689.4 1237.9 L1698.9 1222.7 L1703.6 1214.2 M1697.0 1270.1 L1708.3 1260.6 M1778.4 1280.5 L1777.5 1262.5 L1770.8 1243.6 L1768.0 1228.4 M1779.4 1264.4 L1795.5 1254.9 L1808.7 1251.1 M1782.2 1256.8 L1795.5 1241.7 L1816.3 1228.4 M1784.1 1245.5 L1787.9 1218.9 L1792.6 1217.0 M1795.5 1237.9 L1810.6 1209.5 M1850.4 1284.3 L1849.4 1262.5 L1850.4 1241.7 M1852.3 1275.8 L1869.3 1254.9 L1888.3 1246.4 M1854.2 1266.3 L1871.2 1237.9 L1895.8 1222.7 M1852.3 1256.8 L1863.6 1218.9 L1867.4 1217.0 M1865.5 1243.6 L1875.9 1218.9 L1891.1 1207.6 M1687.5 1308.9 L1681.8 1321.2 L1672.3 1330.7 L1659.1 1343.9 M1673.3 1330.7 L1674.2 1353.4 M1676.1 1328.8 L1681.8 1336.4 L1687.5 1353.4 M1746.2 1309.8 L1750.0 1321.2 L1754.7 1332.6 L1753.8 1353.4 M1755.7 1332.6 L1765.2 1336.4 L1770.8 1342.0 L1780.3 1349.6 M1757.6 1336.4 L1762.3 1353.4 M1825.8 1309.8 L1839.0 1323.1 L1843.8 1332.6 L1846.6 1353.4 M1844.7 1332.6 L1854.2 1328.8 L1867.4 1332.6 L1878.8 1340.2 M1847.5 1343.9 L1863.6 1351.5 L1871.2 1353.4" fill="none" stroke="#0b0b0b" stroke-width="4"/>
<path d="M1521.5 866 C1521.5 905.0 1521.5 1044.3 1521.5 1100 C1521.5 1155.7 1521.6 1177.0 1521.8 1200 C1522.0 1223.0 1521.6 1227.5 1522.7 1237.9 C1523.8 1248.3 1524.9 1255.2 1528.4 1262.5 C1531.9 1269.8 1535.7 1276.0 1543.6 1281.4 C1551.5 1286.8 1564.1 1291.4 1575.8 1294.7 C1587.5 1298.0 1594.7 1299.2 1613.6 1301.3 C1632.5 1303.4 1661.0 1306.3 1689.4 1307.6 C1717.8 1308.9 1755.8 1309.1 1784 1308.9 C1812.2 1308.7 1846.4 1306.8 1858.9 1306.4 L1858.9 1286.2 C1846.4 1285.7 1812.2 1284.7 1784 1283.3 C1755.8 1281.9 1717.8 1279.9 1689.4 1278 C1661.0 1276.1 1631.0 1273.5 1613.6 1272 C1596.2 1270.5 1593.5 1270.9 1585 1269 C1576.5 1267.1 1568.2 1264.2 1562.5 1260.6 C1556.8 1257.0 1553.7 1252.7 1551 1247.3 C1548.3 1241.9 1547.6 1236.3 1546.4 1228.4 C1545.2 1220.5 1545.0 1221.4 1544 1200 C1543.0 1178.6 1541.2 1155.7 1540.5 1100 C1539.8 1044.3 1540.1 905.0 1540 866 Z" fill="#9f9788" stroke="#0b0b0b" stroke-width="4"/>
<rect x="1504" y="859" width="51" height="10" fill="#9f9788" stroke="#0b0b0b" stroke-width="3"/>
<path d="M1266 867.5 C1288.3 867.7 1357.7 868.1 1400 868.5 C1442.3 868.9 1470.0 869.2 1520 869.7 C1570.0 870.2 1645.0 871.1 1700 871.5 C1755.0 871.9 1801.5 871.9 1850 872 C1898.5 872.1 1967.5 872.0 1991 872" fill="none" stroke="#0b0b0b" stroke-width="4.2"/>
</g>
<g id="surface" stroke-linecap="round" stroke-linejoin="round">
<path d="M1374 856.5 L1374 868" stroke="#0b0b0b" stroke-width="3" fill="none"/>
<path d="M1374 827.5 L1366 856.5 L1382 856.5 Z" fill="#5cb05a" stroke="#0b0b0b" stroke-width="3"/>
<path d="M1402 852 L1402 868" stroke="#0b0b0b" stroke-width="3" fill="none"/>
<path d="M1402 798.6 L1392.8 852 L1411.2 852 Z" fill="#5cb05a" stroke="#0b0b0b" stroke-width="3"/>
<path d="M1439 854 L1439 868" stroke="#0b0b0b" stroke-width="3" fill="none"/>
<path d="M1439 789 L1449.9 813.0 L1445.3 811.0 L1451.6 834.5 L1446.0 832.5 L1453.0 854.0 L1425.0 854.0 L1432.0 832.5 L1426.4 834.5 L1432.7 811.0 L1428.1 813.0 Z" fill="#5cb05a" stroke="#0b0b0b" stroke-width="3"/>
<path d="M1814.6 854.6 L1814.6 870" stroke="#0b0b0b" stroke-width="3" fill="none"/>
<path d="M1814.6 806 L1804.6 854.6 L1824.6 854.6 Z" fill="#5cb05a" stroke="#0b0b0b" stroke-width="3"/>
<path d="M1840 856.8 L1840 870" stroke="#0b0b0b" stroke-width="3" fill="none"/>
<path d="M1840 836 L1832.5 856.8 L1847.5 856.8 Z" fill="#5cb05a" stroke="#0b0b0b" stroke-width="3"/>
<path d="M1872.5 844.6 L1872.5 870" stroke="#0b0b0b" stroke-width="3" fill="none"/>
<path d="M1872.5 776 L1886.2 801.4 L1880.4 799.4 L1888.2 824.0 L1881.2 822.0 L1890.0 844.6 L1855.0 844.6 L1863.8 822.0 L1856.8 824.0 L1864.6 799.4 L1858.8 801.4 Z" fill="#5cb05a" stroke="#0b0b0b" stroke-width="3"/>
<path d="M1475.9 868.2 L1515.5 615.7 L1562.6 613.5 L1580.7 868.2 M1530.5 616.7 L1529.4 860.7 M1508.0 666.8 L1563.6 665.1 M1499.4 713.9 L1565.8 712.2 M1494.1 755.6 L1567.9 753.9 M1487.7 798.4 L1571.1 796.7 M1517.6 616.7 L1530.5 661.7 L1561.5 615.7 M1509.1 671.3 L1531.1 710.3 L1562.6 670.2 M1501.6 718.4 L1530.0 753.1 L1564.7 716.3 M1494.1 759.1 L1530.0 793.7 L1566.8 758.0" fill="none" stroke="#0b0b0b" stroke-width="3.4"/>
<path d="M1720.5 751.6 L1748.2 755.4 Q1760.4 757.4 1760.4 782.9 L1761.1 870.1" fill="none" stroke="#0b0b0b" stroke-width="14" stroke-linecap="butt"/>
<path d="M1720.5 751.6 L1748.2 755.4 Q1760.4 757.4 1760.4 782.9 L1761.1 870.1" fill="none" stroke="#b9b4aa" stroke-width="7.6" stroke-linecap="butt"/>
<path d="M1720.5 751.6 L1748.2 755.4 Q1760.4 757.4 1760.4 782.9 L1761.1 870.1" fill="none" stroke="#0b0b0b" stroke-width="8" stroke-dasharray="1.8 15" stroke-dashoffset="-9" stroke-linecap="butt"/>
<path d="M1686.2 782.6 L1686.2 766.0 Q1686.2 754.9 1701.7 754.9" fill="none" stroke="#0b0b0b" stroke-width="11.5" stroke-linecap="butt"/>
<path d="M1686.2 782.6 L1686.2 766.0 Q1686.2 754.9 1701.7 754.9" fill="none" stroke="#b9b4aa" stroke-width="5.1" stroke-linecap="butt"/>
<path d="M1686.2 782.6 L1686.2 766.0 Q1686.2 754.9 1701.7 754.9" fill="none" stroke="#0b0b0b" stroke-width="5.5" stroke-dasharray="1.8 15" stroke-dashoffset="-9" stroke-linecap="butt"/>
<path d="M1623.1 829.1 L1607.6 829.8 Q1589.5 829.8 1589.5 849.0 L1588.8 870.1" fill="none" stroke="#0b0b0b" stroke-width="12.5" stroke-linecap="butt"/>
<path d="M1623.1 829.1 L1607.6 829.8 Q1589.5 829.8 1589.5 849.0 L1588.8 870.1" fill="none" stroke="#b9b4aa" stroke-width="6.1" stroke-linecap="butt"/>
<path d="M1623.1 829.1 L1607.6 829.8 Q1589.5 829.8 1589.5 849.0 L1588.8 870.1" fill="none" stroke="#0b0b0b" stroke-width="6.5" stroke-dasharray="1.8 15" stroke-dashoffset="-9" stroke-linecap="butt"/>
<rect x="1645.3" y="730.6" width="24.4" height="53.1" fill="#9f9788" stroke="#0b0b0b" stroke-width="3.6"/>
<rect x="1700.6" y="732.8" width="19.9" height="50.9" fill="#9f9788" stroke="#0b0b0b" stroke-width="3.6"/>
<path d="M1643.0 725.7 L1676.9 724.4 L1677.4 732.3 L1643.7 733.2 Z" fill="#b9b4aa" stroke="#0b0b0b" stroke-width="3.4"/>
<path d="M1692.9 727.9 L1724.3 722.8 L1725.6 732.8 L1694.0 734.1 Z" fill="#b9b4aa" stroke="#0b0b0b" stroke-width="3.4"/>
<rect x="1622.0" y="782.6" width="118.5" height="87.9" fill="#9f9788" stroke="#0b0b0b" stroke-width="3.8"/>
<path d="M1655.2 870.1 L1657.4 849.0 Q1657.4 834.7 1679.6 834.7 Q1702.8 834.7 1702.8 849.0 L1703.9 870.1" fill="none" stroke="#0b0b0b" stroke-width="11.5" stroke-linecap="butt"/>
<path d="M1655.2 870.1 L1657.4 849.0 Q1657.4 834.7 1679.6 834.7 Q1702.8 834.7 1702.8 849.0 L1703.9 870.1" fill="none" stroke="#b9b4aa" stroke-width="5.1" stroke-linecap="butt"/>
<path d="M1655.2 870.1 L1657.4 849.0 Q1657.4 834.7 1679.6 834.7 Q1702.8 834.7 1702.8 849.0 L1703.9 870.1" fill="none" stroke="#0b0b0b" stroke-width="5.5" stroke-dasharray="1.8 15" stroke-dashoffset="-9" stroke-linecap="butt"/>
<path d="M1682.2 870.1 L1682.2 816.9 Q1682.2 803.2 1695.1 803.2 L1715.0 802.5 Q1725.6 802.5 1725.6 814.7 L1726.5 870.1" fill="none" stroke="#0b0b0b" stroke-width="11.5" stroke-linecap="butt"/>
<path d="M1682.2 870.1 L1682.2 816.9 Q1682.2 803.2 1695.1 803.2 L1715.0 802.5 Q1725.6 802.5 1725.6 814.7 L1726.5 870.1" fill="none" stroke="#b9b4aa" stroke-width="5.1" stroke-linecap="butt"/>
<path d="M1682.2 870.1 L1682.2 816.9 Q1682.2 803.2 1695.1 803.2 L1715.0 802.5 Q1725.6 802.5 1725.6 814.7 L1726.5 870.1" fill="none" stroke="#0b0b0b" stroke-width="5.5" stroke-dasharray="1.8 15" stroke-dashoffset="-9" stroke-linecap="butt"/>
</g>
<g id="lettering">
<text x="1607.6" y="634.5" font-size="46.5" font-weight="normal" textLength="344.4" lengthAdjust="spacingAndGlyphs" fill="#0b0b0b" stroke="#fff" stroke-width="0.6">ГИДРОРАЗРЫВ</text>
<text x="1684" y="695" font-size="49" font-weight="normal" textLength="172.7" lengthAdjust="spacingAndGlyphs" fill="#0b0b0b" stroke="#fff" stroke-width="0.6">ПЛАСТА</text>
<path d="M1588 640 C1700 638 1850 641 1952 643 M1671 701.5 C1730 700 1800 703 1868 705" fill="none" stroke="#0b0b0b" stroke-width="2.8" stroke-linecap="round"/>
<text x="1762.6" y="748.5" font-size="28" font-weight="normal" textLength="149.4" lengthAdjust="spacingAndGlyphs" fill="#0b0b0b" stroke="#0b0b0b" stroke-width="0.5">СКОПЛЕНИЕ</text>
<text x="1792.5" y="782.6" font-size="24" font-weight="normal" textLength="61" lengthAdjust="spacingAndGlyphs" fill="#0b0b0b" stroke="#0b0b0b" stroke-width="0.5">ГАЗА</text>
<path d="M1540 906 C1552 902 1562 893 1576 892" fill="none" stroke="#0b0b0b" stroke-width="2.6"/>
<text x="1579" y="906" font-size="27.5" font-weight="normal" textLength="150" lengthAdjust="spacingAndGlyphs" fill="#0b0b0b" stroke="#0b0b0b" stroke-width="0.5" transform="rotate(1.5 1579 906)">СКВАЖИНА</text>
<text x="1297" y="1040.3" font-size="24.5" font-weight="bold" textLength="146.7" lengthAdjust="spacingAndGlyphs" fill="#0b0b0b">В СКВАЖИНУ</text>
<text x="1293.8" y="1070.8" font-size="25.5" font-weight="bold" textLength="142" lengthAdjust="spacingAndGlyphs" fill="#0b0b0b">ЗАКАЧИВАЮТ</text>
<text x="1295" y="1098.5" font-size="25.5" font-weight="bold" textLength="152" lengthAdjust="spacingAndGlyphs" fill="#0b0b0b">ВОДУ, ПЕСОК</text>
<text x="1289" y="1128.3" font-size="24.5" font-weight="bold" textLength="154.7" lengthAdjust="spacingAndGlyphs" fill="#0b0b0b">И ХИМИКАТЫ</text>
<text x="1602" y="1143.2" font-size="32.5" font-weight="normal" textLength="292" lengthAdjust="spacingAndGlyphs" fill="#0b0b0b" stroke="#0b0b0b" stroke-width="0.5" transform="rotate(0.4 1602 1143.2)">ГАЗ ВЫХОДИТ НАРУЖУ</text>
<path d="M1892.5 1225.8 L1921 1254" fill="none" stroke="#0b0b0b" stroke-width="2.6"/>
<rect x="1920" y="1240" width="120" height="30" rx="14" ry="14" fill="#fff"/>
<text x="1927.5" y="1263.3" font-size="28" font-weight="normal" textLength="106" lengthAdjust="spacingAndGlyphs" fill="#0b0b0b" stroke="#0b0b0b" stroke-width="0.9">ТРЕЩИНА</text>
<text x="1587" y="1294.9" font-size="21" font-weight="bold" textLength="211" lengthAdjust="spacingAndGlyphs" fill="#0b0b0b" transform="rotate(2.5 1587 1294.9)">ПРИРОДНЫЙ ГАЗ</text>
</g>
<circle cx="37" cy="1315.2" r="15.3" fill="#f1f0e7"/>
<text x="37" y="1319.2" font-size="11" text-anchor="middle" fill="#222" stroke="#222" stroke-width="0.35">10</text>
<circle cx="2074.2" cy="1315.5" r="15.3" fill="#f1f0e7"/>
<text x="2074.2" y="1319.5" font-size="11" text-anchor="middle" fill="#222" stroke="#222" stroke-width="0.35">11</text>

</svg>
</body></html>
